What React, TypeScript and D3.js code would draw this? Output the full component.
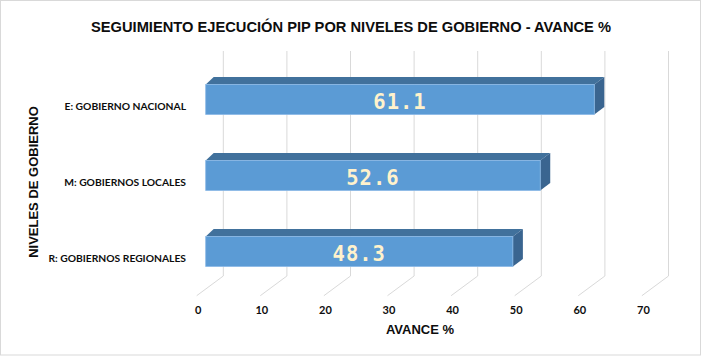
import React from "react";
import * as d3 from "d3";

const categories = ["E: GOBIERNO NACIONAL", "M: GOBIERNOS LOCALES", "R: GOBIERNOS REGIONALES"];
const values = [61.1, 52.6, 48.3];
const ticks = [0, 10, 20, 30, 40, 50, 60, 70];
const title = "SEGUIMIENTO EJECUCIÓN PIP POR NIVELES DE GOBIERNO - AVANCE %";
const xTitle = "AVANCE %";
const yTitle = "NIVELES DE GOBIERNO";

const W = 702;
const H = 357;

export default function App() {
  const x = d3.scaleLinear().domain([0, 70]).range([205.7, 205.7 + 445.2]);
  const y = d3.scalePoint<string>().domain(categories).range([61.5, 289.5]).padding(0.5);
  const barH = 30;
  const dL = 8;
  const dR = 10;
  const dy = 7.5;
  const backOff = 17.6;
  const frontOff = -9;
  const gridTop = 51;
  const gridBottom = 276;
  const floorFront = 295.7;

  return (
    <svg width={W} height={H} style={{ position: "absolute", left: 0, top: 0 }}>
      <rect x={0} y={0} width={W} height={H} fill="#ffffff" />
      <rect x={0.5} y={0.5} width={700} height={354.5} fill="none" stroke="#d9d9d9" strokeWidth={1} />
      <text
        x={351}
        y={28}
        textAnchor="middle"
        dominantBaseline="middle"
        fontFamily="'Liberation Sans', Arial, sans-serif"
        fontWeight="bold"
        fontSize={14.5}
        textLength={520}
        lengthAdjust="spacingAndGlyphs"
        fill="#0d0d0d"
      >
        {title}
      </text>
      {ticks.map((t) => (
        <g key={t}>
          <line x1={x(t) + backOff} x2={x(t) + backOff} y1={gridTop} y2={gridBottom} stroke="#d9d9d9" strokeWidth={1} />
          <line x1={x(t) + backOff} x2={x(t) + frontOff} y1={gridBottom} y2={floorFront} stroke="#d9d9d9" strokeWidth={1} />
          <text
            x={x(t) - 7.5}
            y={311}
            textAnchor="middle"
            dominantBaseline="middle"
            fontFamily="Lato, 'Open Sans', sans-serif"
            fontWeight="bold"
            fontSize={11}
            fill="#0d0d0d"
          >
            {t}
          </text>
        </g>
      ))}
      {categories.map((c, i) => {
        const cy = y(c) as number;
        const yt = cy - barH / 2;
        const yb = cy + barH / 2;
        const x0 = x(0);
        const x1 = x(values[i]);
        const top = `${x0},${yt} ${x0 + dL},${yt - dy} ${x1 + dR},${yt - dy} ${x1},${yt}`;
        const side = `${x1},${yt} ${x1 + dR},${yt - dy} ${x1 + dR},${yb - dy} ${x1},${yb}`;
        return (
          <g key={c}>
            <polygon points={top} fill="#41719c" />
            <polygon points={side} fill="#3a6590" />
            <rect x={x0} y={yt} width={x1 - x0} height={barH} fill="#5b9bd5" stroke="#8ab8e6" strokeWidth={0.8} />
            <text
              x={(x0 + x1) / 2}
              y={cy + 3.5}
              textAnchor="middle"
              dominantBaseline="middle"
              fontFamily="'DejaVu Sans Mono', monospace"
              fontWeight="bold"
              fontSize={20.5}
              letterSpacing={1}
              fill="#fff2cc"
            >
              {values[i].toFixed(1)}
            </text>
            <text
              x={186}
              y={cy + 7.5}
              textAnchor="end"
              dominantBaseline="middle"
              fontFamily="Lato, 'Open Sans', sans-serif"
              fontWeight="bold"
              fontSize={10.3}
              fill="#0d0d0d"
            >
              {c}
            </text>
          </g>
        );
      })}
      <text
        x={420}
        y={331}
        textAnchor="middle"
        dominantBaseline="middle"
        fontFamily="'Liberation Sans', Arial, sans-serif"
        fontWeight="bold"
        fontSize={13}
        fill="#0d0d0d"
      >
        {xTitle}
      </text>
      <text
        transform="translate(35,182) rotate(-90)"
        textAnchor="middle"
        dominantBaseline="middle"
        fontFamily="'Liberation Sans', Arial, sans-serif"
        fontWeight="bold"
        fontSize={13}
        fill="#0d0d0d"
      >
        {yTitle}
      </text>
    </svg>
  );
}
